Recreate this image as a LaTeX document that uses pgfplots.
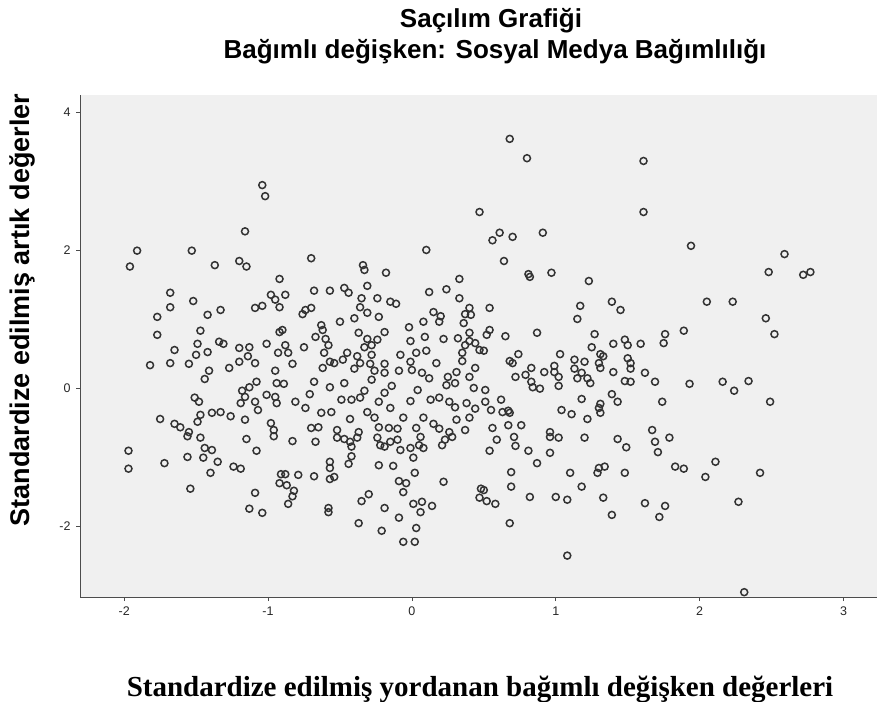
\documentclass[border=0pt]{standalone}
\usepackage{fontspec}
\setmainfont{Liberation Sans}
\newfontfamily\timesfont{Liberation Serif}
\usepackage{pgfplots}
\pgfplotsset{compat=1.18}
\definecolor{bggray}{HTML}{F0F0F0}
\definecolor{ptcol}{HTML}{333333}
\begin{document}
\begin{tikzpicture}
\path[use as bounding box] (0,0) rectangle (877pt,-701pt);
\begin{axis}[
  at={(80pt,-597pt)}, anchor=south west,
  scale only axis, width=797pt, height=502pt,
  xmin=-2.307, xmax=3.233, ymin=-3.03, ymax=4.246,
  axis background/.style={fill=bggray},
  axis x line=bottom, axis y line=left,
  axis line style={draw=black!70, line width=0.8pt, -},
  xtick={-2,-1,0,1,2,3}, xticklabels={-2,-1,0,1,2,3},
  ytick={-2,0,2,4}, yticklabels={-2,0,2,4},
  tick align=outside, major tick length=4pt,
  tick style={draw=black!70, line width=0.6pt},
  ticklabel style={font=\fontsize{12.5}{12.5}\selectfont, text=black!85},
  xticklabel style={yshift=-2pt},
  yticklabel style={xshift=-2pt},
]
\addplot[only marks, mark=o, mark size=3.5pt, mark options={draw=ptcol, line width=1.5pt}] table {
x y
-1.04 2.94
-1.02 2.78
-1.16 2.27
-1.91 1.99
-1.53 1.99
-1.96 1.76
-1.37 1.78
-1.20 1.84
-1.15 1.76
0.47 2.55
0.10 2.00
-0.70 1.88
-0.34 1.78
0.68 3.61
0.80 3.33
1.61 3.29
1.61 2.55
0.61 2.25
0.56 2.14
0.70 2.19
0.91 2.25
0.64 1.84
1.94 2.06
2.59 1.94
2.48 1.68
2.72 1.64
2.77 1.68
2.05 1.25
2.23 1.25
2.46 1.01
2.52 0.78
1.89 0.83
1.93 0.06
2.16 0.09
2.24 -0.04
2.34 0.10
2.49 -0.20
1.89 -1.17
2.04 -1.29
2.11 -1.07
2.42 -1.23
2.27 -1.65
2.31 -2.96
0.59 -0.75
0.71 -0.71
0.54 -0.91
0.72 -0.84
0.81 -0.91
0.96 -0.94
0.87 -1.09
0.96 -0.71
1.02 -0.72
1.20 -0.72
1.43 -0.74
1.49 -0.86
1.69 -0.78
1.79 -0.72
1.71 -0.93
1.83 -1.14
0.69 -1.22
0.69 -1.43
1.10 -1.23
1.29 -1.23
1.30 -1.16
1.34 -1.14
1.48 -1.23
1.18 -1.43
0.50 -1.48
0.52 -1.64
0.58 -1.68
0.82 -1.58
1.00 -1.58
1.08 -1.62
1.33 -1.59
1.39 -1.84
1.62 -1.67
1.76 -1.71
1.72 -1.87
0.68 -1.96
1.08 -2.43
-0.83 -0.77
-0.67 -0.78
-0.57 -1.07
-0.57 -1.16
-0.42 -0.99
-0.44 -1.10
-0.23 -1.12
-0.13 -1.13
0.01 -1.01
0.02 -1.23
0.22 -1.36
-0.88 -1.25
-0.79 -1.26
-0.68 -1.28
-0.57 -1.32
-0.54 -1.29
-0.87 -1.41
-0.82 -1.49
-0.83 -1.57
-0.86 -1.68
-0.58 -1.74
-0.58 -1.80
-0.35 -1.64
-0.30 -1.54
-0.19 -1.74
-0.09 -1.35
-0.04 -1.38
-0.06 -1.51
-0.37 -1.96
-0.09 -1.88
-0.21 -2.07
0.01 -1.68
0.07 -1.65
0.14 -1.71
0.06 -1.80
0.03 -2.03
-0.06 -2.23
0.02 -2.23
0.47 -1.59
0.48 -1.46
-0.52 -0.72
-0.47 -0.74
-0.43 -0.78
-0.42 -0.85
-0.38 -0.72
-0.24 -0.72
-0.22 -0.83
-0.19 -0.85
-0.15 -0.78
-0.10 -0.75
-0.08 -0.90
-0.01 -0.87
0.05 -0.83
0.08 -0.87
0.06 -0.71
0.21 -0.83
0.23 -0.75
0.28 -0.71
-1.97 -0.91
-1.97 -1.17
-1.72 -1.09
-1.56 -1.00
-1.56 -0.70
-1.47 -0.72
-1.44 -0.87
-1.39 -0.90
-1.45 -1.01
-1.35 -1.07
-1.40 -1.23
-1.24 -1.14
-1.19 -1.17
-1.54 -1.46
-1.15 -0.74
-1.08 -0.91
-0.96 -0.70
-1.09 -1.52
-1.13 -1.75
-1.04 -1.81
-0.92 -1.38
-0.91 -1.25
-0.92 1.58
-1.68 1.38
-1.68 1.17
-1.52 1.26
-1.77 1.03
-1.42 1.06
-1.33 1.13
-1.09 1.16
-1.04 1.19
-0.98 1.35
-0.95 1.28
-0.92 1.17
-1.77 0.77
-1.47 0.83
-1.49 0.64
-1.34 0.67
-1.31 0.64
-1.01 0.64
-0.92 0.81
-1.65 0.55
-1.82 0.33
-1.68 0.36
-1.55 0.35
-1.50 0.48
-1.42 0.52
-1.27 0.29
-1.20 0.38
-1.20 0.58
-1.13 0.59
-1.14 0.46
-1.09 0.36
-0.93 0.51
-1.41 0.25
-1.44 0.13
-0.95 0.25
-0.94 0.07
-1.18 -0.04
-1.13 0.01
-1.08 0.09
-1.16 -0.13
-1.01 -0.10
-0.95 -0.13
-1.51 -0.14
-1.48 -0.20
-1.19 -0.22
-1.09 -0.20
-1.07 -0.32
-0.94 -0.22
-1.47 -0.39
-1.39 -0.36
-1.33 -0.35
-1.26 -0.41
-1.16 -0.46
-1.75 -0.45
-1.65 -0.52
-1.61 -0.57
-1.55 -0.64
-1.49 -0.49
-0.98 -0.51
-0.96 -0.61
-0.33 1.71
-0.18 1.67
0.33 1.58
-0.68 1.41
-0.57 1.41
-0.47 1.45
-0.44 1.38
-0.31 1.48
0.12 1.39
0.24 1.43
0.33 1.30
-0.88 1.35
-0.35 1.30
-0.24 1.30
-0.36 1.17
-0.15 1.25
-0.11 1.22
-0.74 1.13
-0.70 1.16
-0.76 1.07
-0.31 1.09
-0.23 1.03
-0.40 1.01
0.15 1.10
0.20 1.04
0.40 1.16
0.37 1.07
0.41 1.06
-0.50 0.96
-0.63 0.91
-0.62 0.84
-0.90 0.84
-0.02 0.88
0.08 0.96
0.19 0.96
0.36 0.94
-0.37 0.80
-0.19 0.81
0.40 0.80
-0.67 0.74
-0.60 0.71
-0.31 0.71
-0.24 0.70
-0.01 0.68
0.09 0.74
0.22 0.71
0.32 0.72
0.40 0.68
-0.88 0.62
-0.75 0.59
-0.58 0.62
-0.33 0.59
-0.28 0.62
0.37 0.62
0.44 0.65
0.47 0.55
-0.61 0.51
-0.45 0.51
-0.38 0.46
-0.28 0.48
-0.08 0.48
0.03 0.51
0.10 0.54
0.35 0.51
-0.86 0.51
-0.83 0.35
-0.57 0.38
-0.54 0.36
-0.48 0.41
-0.36 0.36
-0.29 0.35
-0.19 0.35
-0.01 0.38
0.17 0.36
0.35 0.39
0.44 0.29
-0.62 0.29
-0.40 0.28
-0.26 0.25
-0.19 0.22
-0.09 0.25
0.00 0.26
0.07 0.22
0.12 0.14
0.25 0.16
0.31 0.23
0.40 0.16
-0.68 0.09
-0.57 0.01
-0.47 0.07
-0.28 0.12
-0.14 0.03
0.24 0.04
0.30 0.07
-0.89 0.06
-0.33 -0.04
-0.19 -0.07
0.04 -0.03
0.43 0.00
-0.81 -0.20
-0.71 -0.09
-0.74 -0.29
-0.49 -0.17
-0.42 -0.17
-0.36 -0.14
-0.23 -0.20
-0.15 -0.29
-0.01 -0.19
0.13 -0.17
0.19 -0.14
0.26 -0.20
0.38 -0.22
0.30 -0.28
0.44 -0.30
-0.63 -0.36
-0.56 -0.35
-0.43 -0.45
-0.31 -0.35
-0.26 -0.43
-0.06 -0.43
0.08 -0.43
0.15 -0.52
0.31 -0.46
0.40 -0.43
-0.70 -0.58
-0.65 -0.57
-0.52 -0.61
-0.37 -0.64
-0.23 -0.57
-0.16 -0.58
-0.10 -0.59
0.03 -0.58
0.19 -0.59
0.26 -0.64
0.37 -0.61
0.81 1.65
0.82 1.61
0.97 1.67
1.23 1.55
0.54 1.16
1.17 1.19
1.15 1.00
1.39 1.25
1.45 1.13
0.54 0.84
0.52 0.77
0.65 0.75
0.87 0.80
1.27 0.78
1.48 0.70
1.50 0.62
1.59 0.64
1.76 0.78
1.75 0.65
0.50 0.54
1.25 0.59
1.40 0.64
0.74 0.49
0.68 0.39
0.70 0.36
1.03 0.49
1.13 0.41
1.20 0.38
1.31 0.49
1.33 0.46
1.30 0.36
1.50 0.43
1.52 0.36
0.83 0.29
0.79 0.19
0.72 0.16
0.92 0.23
0.99 0.32
0.99 0.23
1.02 0.16
1.02 0.03
1.13 0.28
1.15 0.14
1.18 0.22
1.22 0.14
1.24 0.07
1.31 0.29
1.40 0.23
1.52 0.28
1.48 0.10
1.52 0.09
1.62 0.22
1.69 0.09
0.83 0.09
0.84 0.01
0.89 -0.01
0.51 -0.03
0.51 -0.20
0.62 -0.17
0.55 -0.32
0.63 -0.35
0.67 -0.33
0.68 -0.36
0.67 -0.54
0.76 -0.54
0.56 -0.58
1.18 -0.16
1.39 -0.09
1.43 -0.20
1.31 -0.23
1.30 -0.29
1.31 -0.36
1.04 -0.32
1.11 -0.38
1.22 -0.45
1.74 -0.20
1.67 -0.61
0.96 -0.64
};
\end{axis}
\node[anchor=base, font=\fontsize{26}{26}\selectfont\bfseries] at (491pt,-28pt) {Saçılım Grafiği};
\node[anchor=base, font=\fontsize{26}{26}\selectfont\bfseries] at (495pt,-59pt) {Bağımlı değişken: Sosyal Medya Bağımlılığı};
\node[rotate=90, anchor=center, font=\fontsize{27}{27}\selectfont\bfseries] at (22pt,-310pt) {Standardize edilmiş artık değerler};
\node[anchor=base, font=\timesfont\fontsize{29}{29}\selectfont\bfseries] at (480pt,-696pt) {Standardize edilmiş yordanan bağımlı değişken değerleri};
\end{tikzpicture}
\end{document}
